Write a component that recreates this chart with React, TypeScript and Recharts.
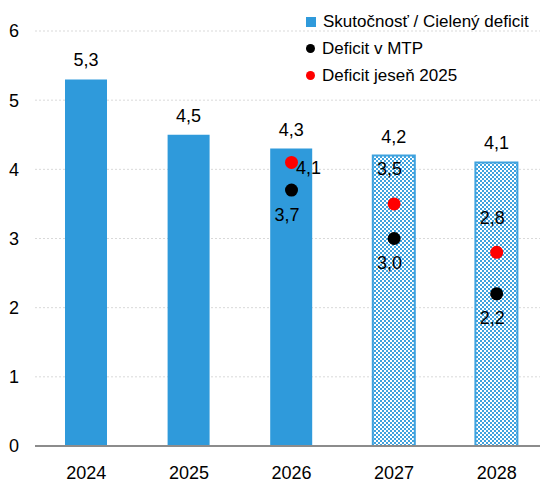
import {
  ComposedChart,
  Bar,
  Scatter,
  Cell,
  XAxis,
  YAxis,
  CartesianGrid,
  LabelList,
} from 'recharts';

const years = ['2024', '2025', '2026', '2027', '2028'];
const deficit = [5.3, 4.5, 4.3, 4.2, 4.1];
const isTarget = [false, false, false, true, true];

const mtpYears = ['2026', '2027', '2028'];
const mtpValues = [3.7, 3.0, 2.2];

const autumnYears = ['2026', '2027', '2028'];
const autumnValues = [4.1, 3.5, 2.8];

const yTicks = [0, 1, 2, 3, 4, 5, 6];

const COLORS = {
  bar: '#2F9ADB',
  hatch: '#3FA2DE',
  mtp: '#000000',
  autumn: '#FF0000',
  grid: '#D9D9D9',
  axis: '#8C8C8C',
};

const FONT = '"Liberation Sans", Arial, sans-serif';

const chartData = years.map((year, i) => ({ year, deficit: deficit[i] }));
const mtpData = mtpYears.map((year, i) => ({ year, value: mtpValues[i] }));
const autumnData = autumnYears.map((year, i) => ({ year, value: autumnValues[i] }));

const fmt = (v: number) => v.toFixed(1).replace('.', ',');

// popisky nad stĺpcami
const BarLabel = (props: any) => {
  const { x, y, width, value } = props;
  return (
    <text x={x + width / 2} y={y - 13} textAnchor="middle" fontSize={18} fontFamily={FONT} fill="#000">
      {fmt(value)}
    </text>
  );
};

// MTP body: popisok pod bodom
const MtpLabel = (props: any) => {
  const { x, y, value } = props;
  return (
    <text x={x} y={y + 35} textAnchor="middle" fontSize={18} fontFamily={FONT} fill="#000">
      {fmt(value)}
    </text>
  );
};

// jeseň 2025: prvý popisok vpravo, ostatné nad bodom
const AutumnLabel = (props: any) => {
  const { x, y, value, index } = props;
  if (index === 0) {
    return (
      <text x={x + 9} y={y + 16} textAnchor="start" fontSize={18} fontFamily={FONT} fill="#000">
        {fmt(value)}
      </text>
    );
  }
  return (
    <text x={x} y={y - 24} textAnchor="middle" fontSize={18} fontFamily={FONT} fill="#000">
      {fmt(value)}
    </text>
  );
};

const dot = (color: string) => (props: any) =>
  <circle cx={props.cx} cy={props.cy} r={6.5} fill={color} />;

const legendRows = [
  { label: 'Skutočnosť / Cielený deficit', color: COLORS.bar, square: true },
  { label: 'Deficit v MTP', color: COLORS.mtp, square: false },
  { label: 'Deficit jeseň 2025', color: COLORS.autumn, square: false },
];

const LegendBox = () => (
  <div style={{ position: 'absolute', top: 8, left: 306, fontFamily: FONT, fontSize: 17, color: '#000' }}>
    {legendRows.map((r) => (
      <div key={r.label} style={{ display: 'flex', alignItems: 'center', height: 27, whiteSpace: 'nowrap' }}>
        <span
          style={{
            display: 'inline-block',
            width: r.square ? 10 : 9,
            height: r.square ? 10 : 9,
            borderRadius: r.square ? 0 : '50%',
            background: r.color,
            marginRight: 7,
          }}
        />
        {r.label}
      </div>
    ))}
  </div>
);

export default function App() {
  return (
    <div style={{ position: 'absolute', left: 0, top: 0, width: 540, height: 482, overflow: 'hidden', background: '#fff' }}>
      <ComposedChart width={548} height={482} data={chartData} margin={{ top: 31, right: 0, left: 0, bottom: 0 }}>
        <defs>
          <pattern id="checker" patternUnits="userSpaceOnUse" width={4} height={4}>
            <rect width={4} height={4} fill="#ffffff" />
            <rect x={0} y={0} width={2} height={2} fill={COLORS.hatch} />
            <rect x={2} y={2} width={2} height={2} fill={COLORS.hatch} />
          </pattern>
        </defs>
        <CartesianGrid vertical={false} stroke={COLORS.grid} strokeDasharray="2 2" />
        <XAxis
          dataKey="year"
          type="category"
          allowDuplicatedCategory={false}
          height={36}
          tickLine={false}
          tickMargin={14}
          axisLine={{ stroke: COLORS.axis, strokeWidth: 2 }}
          tick={{ fontSize: 18, fontFamily: FONT, fill: '#000' }}
        />
        <YAxis
          domain={[0, 6]}
          ticks={yTicks}
          width={35}
          axisLine={false}
          tickLine={false}
          tickMargin={10}
          tick={{ fontSize: 18, fontFamily: FONT, fill: '#000' }}
        />
        <Bar dataKey="deficit" name="Skutočnosť / Cielený deficit" barSize={42} isAnimationActive={false}>
          {chartData.map((d, i) => (
            <Cell
              key={d.year}
              fill={isTarget[i] ? 'url(#checker)' : COLORS.bar}
              stroke={isTarget[i] ? COLORS.hatch : 'none'}
              strokeWidth={isTarget[i] ? 2 : 0}
            />
          ))}
          <LabelList dataKey="deficit" content={<BarLabel />} />
        </Bar>
        <Scatter
          data={mtpData}
          dataKey="value"
          name="Deficit v MTP"
          shape={dot(COLORS.mtp)}
          isAnimationActive={false}
        >
          <LabelList dataKey="value" content={<MtpLabel />} />
        </Scatter>
        <Scatter
          data={autumnData}
          dataKey="value"
          name="Deficit jeseň 2025"
          shape={dot(COLORS.autumn)}
          isAnimationActive={false}
        >
          <LabelList dataKey="value" content={<AutumnLabel />} />
        </Scatter>
      </ComposedChart>
      <LegendBox />
    </div>
  );
}
